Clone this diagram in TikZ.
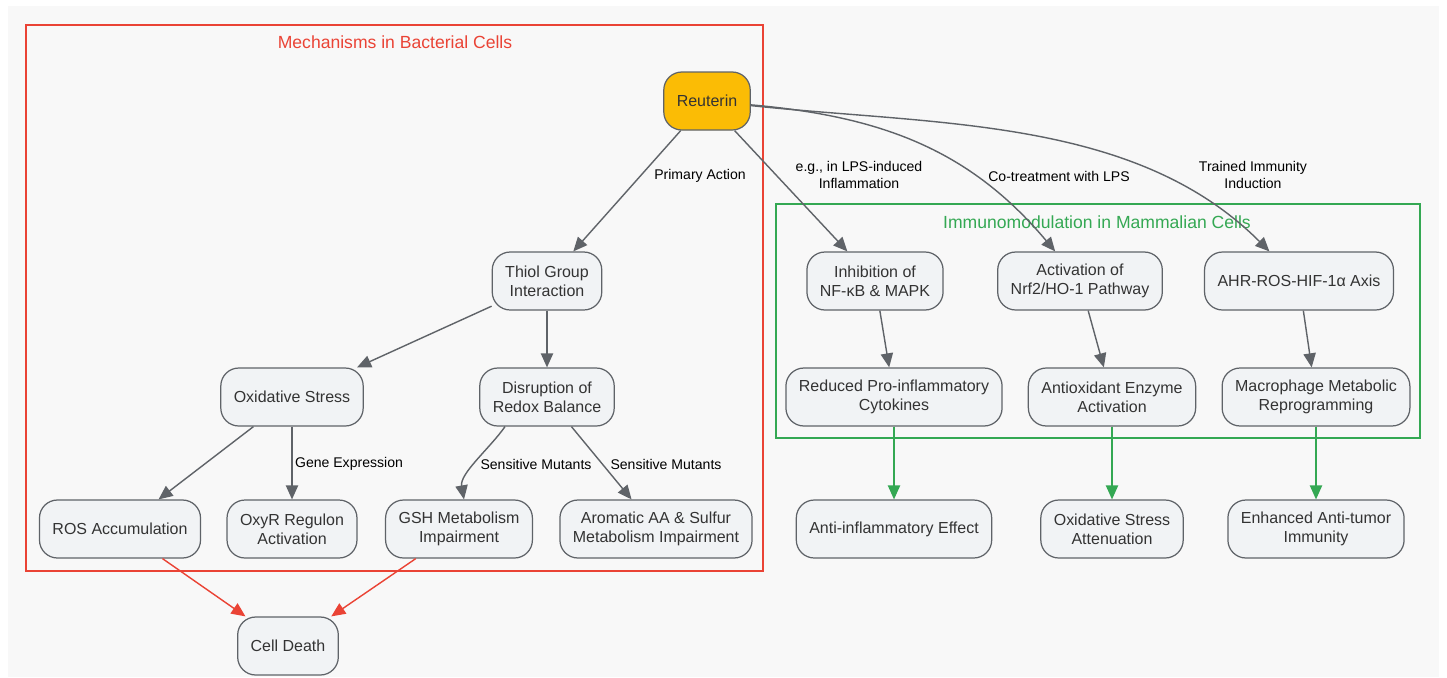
\documentclass[tikz,border=0pt]{standalone}
\usepackage{fontspec}
\setmainfont{Liberation Sans}
\usetikzlibrary{arrows.meta}
\definecolor{bgcol}{HTML}{F8F8F8}
\definecolor{boxfill}{HTML}{F1F3F5}
\definecolor{linegray}{HTML}{5F6368}
\definecolor{txtgray}{HTML}{333333}
\definecolor{redc}{HTML}{EA4335}
\definecolor{greenc}{HTML}{34A853}
\definecolor{gold}{HTML}{FBBC05}
\begin{document}
\begin{tikzpicture}[x=0.02cm,y=-0.02cm,font=\fontsize{9.1}{10.8}\selectfont,
  box/.style={draw=linegray,fill=boxfill,line width=0.7pt,rounded corners=0.36cm,minimum height=1.16cm,inner xsep=0.26cm,align=center,text=txtgray},
  elabel/.style={font=\fontsize{8}{9.7}\selectfont,align=center,text=black},
  ctitle/.style={font=\fontsize{10}{12}\selectfont},
  flow/.style={draw=linegray,line width=0.8pt,-{Triangle[length=8pt,width=7pt]}},
  redflow/.style={flow,draw=redc,fill=redc},
  greenflow/.style={flow,draw=greenc,fill=greenc}]
\useasboundingbox (0,0) rectangle (1447,677);
\fill[bgcol] (8,6) rectangle (1439,677);
\draw[redc,line width=0.6pt] (26,25) rectangle (763,571);
\node[ctitle,text=redc] (bactitle) at (395,42) {Mechanisms in Bacterial Cells};
\draw[greenc,line width=0.6pt] (776,204) rectangle (1420,438);
\node[ctitle,text=greenc] (mamtitle) at (1097,222) {Immunomodulation in Mammalian Cells};

\node[box,fill=gold] (reut) at (707,101) {Reuterin};
\node[box] (thiol) at (547,281) {Thiol Group\\Interaction};
\node[box] (oxs) at (292,397) {Oxidative Stress};
\node[box] (redox) at (547,397) {Disruption of\\Redox Balance};
\node[box] (ros) at (120,529) {ROS Accumulation};
\node[box] (oxyr) at (292,529) {OxyR Regulon\\Activation};
\node[box] (gsh) at (459,529) {GSH Metabolism\\Impairment};
\node[box] (arom) at (656,529) {Aromatic AA \& Sulfur\\Metabolism Impairment};
\node[box] (death) at (288,646) {Cell Death};

\node[box] (nfkb) at (875,281) {Inhibition of\\NF-κB \& MAPK};
\node[box] (nrf) at (1080,281) {Activation of\\Nrf2/HO-1 Pathway};
\node[box] (ahr) at (1299,281) {AHR-ROS-HIF-1α Axis};
\node[box] (cyto) at (894,397) {Reduced Pro-inflammatory\\Cytokines};
\node[box] (enz) at (1112,397) {Antioxidant Enzyme\\Activation};
\node[box] (macro) at (1316,397) {Macrophage Metabolic\\Reprogramming};
\node[box] (antiinf) at (894,529) {Anti-inflammatory Effect};
\node[box] (atten) at (1112,529) {Oxidative Stress\\Attenuation};
\node[box] (tumor) at (1316,529) {Enhanced Anti-tumor\\Immunity};

\draw[flow] (reut) -- (thiol);
\draw[flow] (reut) -- (nfkb);
\draw[flow] (reut) to[out=-5,in=130] (nrf);
\draw[flow] (reut) to[out=-6,in=135,looseness=0.9] (ahr);
\draw[flow] (thiol) -- (oxs);
\draw[flow] (thiol) -- (redox);
\draw[flow] (oxs) -- (ros);
\draw[flow] (oxs) -- (oxyr);
\draw[flow] ([xshift=-0.84cm]redox.south) to[out=235,in=100,looseness=0.8] ([xshift=0.1cm]gsh.north);
\draw[flow] (redox) -- (arom);
\draw[redflow] (ros) -- (death);
\draw[redflow] (gsh) -- (death);
\draw[flow] (nfkb) -- (cyto);
\draw[flow] (nrf) -- (enz);
\draw[flow] (ahr) -- (macro);
\draw[greenflow] (cyto) -- (antiinf);
\draw[greenflow] (enz) -- (atten);
\draw[greenflow] (macro) -- (tumor);

\node[elabel] (lprim) at (700,176) {Primary Action};
\node[elabel] (llps) at (859,175) {e.g., in LPS-induced\\Inflammation};
\node[elabel] (lcotr) at (1059,176) {Co-treatment with LPS};
\node[elabel] (ltrain) at (1253,175) {Trained Immunity\\Induction};
\node[elabel] (lgene) at (349,464) {Gene Expression};
\node[elabel] (lsens) at (536,464) {Sensitive Mutants};
\node[elabel] (lsenss) at (666,464) {Sensitive Mutants};
\end{tikzpicture}
\end{document}
